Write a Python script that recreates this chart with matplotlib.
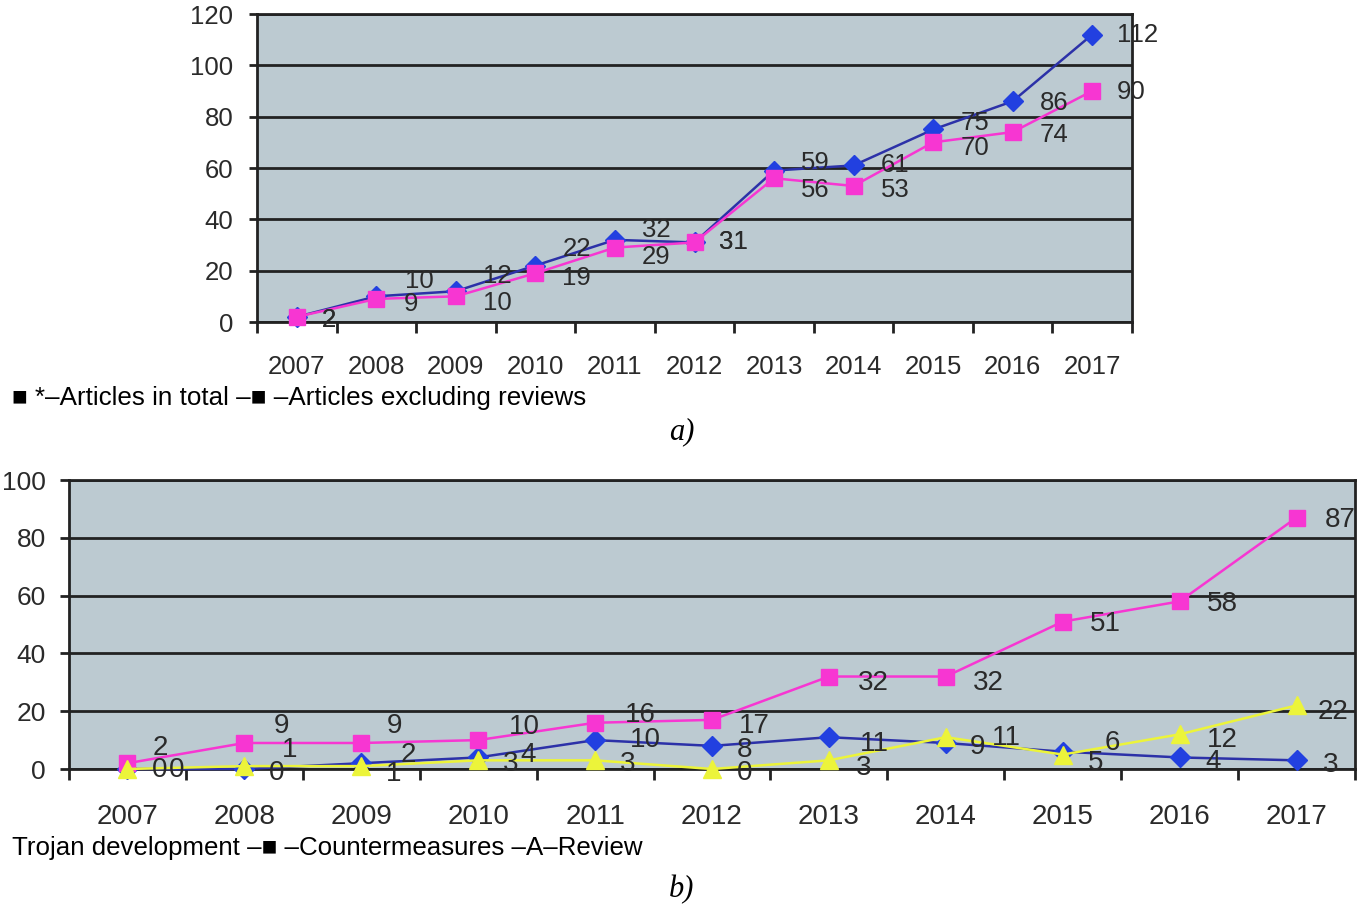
import matplotlib
matplotlib.use("Agg")
import matplotlib.pyplot as plt
from matplotlib.ticker import FixedLocator

plt.rcParams['font.family'] = ['Liberation Sans', 'DejaVu Sans']

years = ['2007', '2008', '2009', '2010', '2011', '2012',
         '2013', '2014', '2015', '2016', '2017']

# panel a
articles_total = [2, 10, 12, 22, 32, 31, 59, 61, 75, 86, 112]
articles_no_reviews = [2, 9, 10, 19, 29, 31, 56, 53, 70, 74, 90]

# panel b
trojan_dev = [0, 0, 2, 4, 10, 8, 11, 9, 6, 4, 3]
countermeasures = [2, 9, 9, 10, 16, 17, 32, 32, 51, 58, 87]
review = [0, 1, 1, 3, 3, 0, 3, 11, 5, 12, 22]

# label offsets in pixels (dx right, dy down), just to mimic the Excel placement
off_total = [(25, 3), (29, -15), (27, -15), (27, -17), (27, -10), (25, 0),
             (27, -8), (27, 0), (27, -6), (27, 2), (25, 0)]
off_norev = [(25, 3), (27, 5), (27, 7), (27, 5), (27, 9), (25, 0),
             (27, 12), (27, 4), (27, 6), (27, 3), (25, 1)]
off_trojan = [(24, 1), (25, 4), (39, -8), (42, -2), (35, 0), (25, 4),
              (31, 7), (24, 4), (42, -9), (26, 5), (26, 5)]
off_counter = [(25, -15), (29, -17), (25, -17), (31, -13), (30, -8), (27, 6),
               (29, 6), (27, 6), (27, 2), (27, 3), (28, 2)]
off_review = [(41, 1), (38, -16), (25, 8), (25, 4), (25, 4), (25, 4),
              (27, 8), (46, 1), (25, 8), (27, 6), (21, 7)]

BG = '#bccad1'
BLUE_LINE = '#2c31a8'
BLUE = '#2240e0'
PINK = '#f736d2'
YELLOW = '#ecf43a'
GRID = '#222222'
TXT = '#2a2a2a'

fig = plt.figure(figsize=(13.58, 9.13), dpi=100)


def style_axes(ax, ymax, ystep, ytick_len, ypad, xpad, fs, yfs):
    ax.set_facecolor(BG)
    n = len(years)
    x = list(range(n))
    ax.set_xlim(-0.5, n - 0.5)
    ax.set_ylim(0, ymax)
    ax.set_xticks(x)
    ax.set_xticklabels(years, fontsize=fs, color=TXT)
    ax.xaxis.set_minor_locator(FixedLocator([i + 0.5 for i in range(-1, n)]))
    ax.tick_params(axis='x', which='major', length=0, pad=xpad)
    ax.tick_params(axis='x', which='minor', length=8, width=2, color=GRID,
                   direction='out')
    ax.set_yticks(range(0, ymax + 1, ystep))
    ax.tick_params(axis='y', length=ytick_len, width=2, color=GRID,
                   labelsize=yfs, labelcolor=TXT, pad=ypad)
    ax.grid(axis='y', color=GRID, linewidth=2)
    ax.set_axisbelow(True)
    for s in ax.spines.values():
        s.set_color(GRID)
        s.set_linewidth(2)
    return x


def draw_series(ax, x, vals, offs, lcolor, mcolor, marker, ms, fs):
    ax.plot(x, vals, color=lcolor, marker=marker, markersize=ms,
            markerfacecolor=mcolor, markeredgecolor=mcolor,
            linewidth=1.8, clip_on=False, zorder=3)
    for xi, v, (dx, dy) in zip(x, vals, offs):
        ax.annotate(str(v), (xi, v), xytext=(dx * 0.72, -dy * 0.72),
                    textcoords='offset points', ha='left', va='center',
                    fontsize=fs, color=TXT, zorder=4, annotation_clip=False)


# ---- panel a ----
ax1 = fig.add_axes([257 / 1358, 1 - 322 / 913, 875 / 1358, 308 / 913])
xa = style_axes(ax1, 120, 20, 6, 11, 24, 18.5, 18.5)
draw_series(ax1, xa, articles_total, off_total, BLUE_LINE, BLUE, 'D', 10, 18.5)
draw_series(ax1, xa, articles_no_reviews, off_norev, PINK, PINK, 's', 11, 18.5)

fig.text(12 / 1358, 1 - 398 / 913,
         '\u25a0 *\u2013Articles in total \u2013\u25a0 \u2013Articles excluding reviews',
         fontsize=18.7, color='black', ha='left', va='center')
fig.text(682 / 1358, 1 - 432 / 913, 'a)', fontsize=22, style='italic',
         family='Liberation Serif', ha='center', va='center')

# ---- panel b ----
ax2 = fig.add_axes([69 / 1358, 1 - 769 / 913, 1286 / 1358, 289 / 913])
xb = style_axes(ax2, 100, 20, 6.5, 10, 25, 20, 19)
draw_series(ax2, xb, trojan_dev, off_trojan, BLUE_LINE, BLUE, 'D', 10, 20)
draw_series(ax2, xb, countermeasures, off_counter, PINK, PINK, 's', 11, 20)
draw_series(ax2, xb, review, off_review, YELLOW, YELLOW, '^', 13, 20)

fig.text(12 / 1358, 1 - 848 / 913,
         'Trojan development \u2013\u25a0 \u2013Countermeasures \u2013A\u2013Review',
         fontsize=18.6, color='black', ha='left', va='center')
fig.text(682 / 1358, 1 - 890 / 913, 'b)', fontsize=22, style='italic',
         family='Liberation Serif', ha='center', va='center')

fig.savefig('out.png', dpi=100, facecolor='white')
